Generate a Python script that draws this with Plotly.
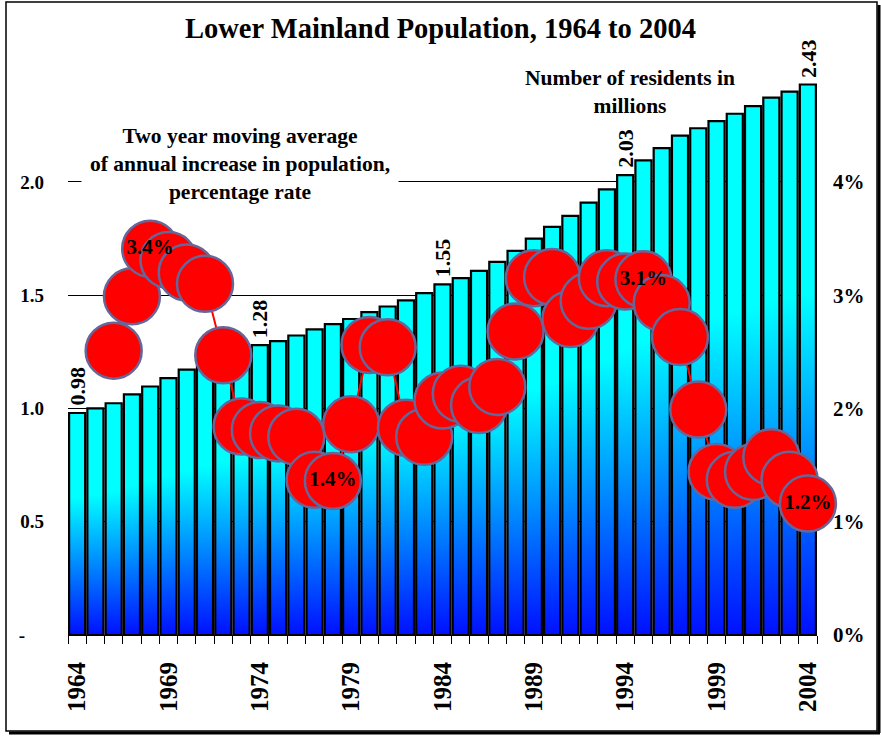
import plotly.graph_objects as go

years = list(range(1964, 2005))
population = [0.98, 1.00, 1.023, 1.062, 1.097, 1.134, 1.171, 1.205, 1.235, 1.26,
              1.28, 1.297, 1.322, 1.349, 1.372, 1.395, 1.425, 1.450, 1.477, 1.509,
              1.548, 1.575, 1.607, 1.647, 1.696, 1.750, 1.802, 1.850, 1.909, 1.967,
              2.03, 2.095, 2.149, 2.204, 2.237, 2.268, 2.301, 2.335, 2.372, 2.399,
              2.43]

rate_years = list(range(1966, 2005))
growth_rate = [2.51, 2.99, 3.41, 3.31, 3.20, 3.10, 2.47,
               1.84, 1.81, 1.78, 1.75, 1.37, 1.36, 1.86, 2.56, 2.54, 1.83, 1.75,
               2.07, 2.13, 2.03, 2.19, 2.68, 3.15, 3.16, 2.79, 2.95, 3.15,
               3.12, 3.14, 2.93, 2.63, 1.99, 1.44, 1.37, 1.44, 1.57, 1.37, 1.16]

bar_label_years = [1964, 1974, 1984, 1994, 2004]
rate_label_years = [1968, 1978, 1995, 2004]
year_ticks = list(range(1964, 2005, 5))
left_ticks = [0, 0.5, 1.0, 1.5, 2.0]
left_ticktext = ["-\u00a0\u00a0\u00a0\u00a0", "0.5", "1.0", "1.5", "2.0"]
right_ticks = [0, 1, 2, 3, 4]
right_ticktext = ["0%", "1%", "2%", "3%", "4%"]

SERIF = "Liberation Serif, Times New Roman, serif"
W, H = 881, 736
ML, MR, MT, MB = 68, 64, 46, 101
PW, PH = W - ML - MR, H - MT - MB


def px_x(p):
    return (p - ML) / PW


def px_y(q):
    return (H - MB - q) / PH


fig = go.Figure()

# bars as filled polygons so each one gets its own vertical gradient
bar_w = 0.88
grad = [[0, "#0010ff"], [0.62, "#00ffff"], [1, "#00ffff"]]
for yr, v in zip(years, population):
    x0, x1 = yr - bar_w / 2, yr + bar_w / 2
    fig.add_trace(go.Scatter(
        x=[x0, x0, x1, x1, x0], y=[0, v, v, 0, 0],
        mode="lines", fill="toself",
        fillgradient=dict(type="vertical", colorscale=grad),
        line=dict(color="black", width=2.2),
        showlegend=False, hoverinfo="skip",
    ))

rate_text = [f"{v:.1f}%" if yr in rate_label_years else "" for yr, v in zip(rate_years, growth_rate)]
fig.add_trace(go.Scatter(
    x=rate_years, y=growth_rate, yaxis="y2",
    mode="lines+markers+text",
    line=dict(color="red", width=2),
    marker=dict(size=56, color="red", line=dict(color="#666699", width=2.5)),
    text=rate_text, textposition="middle center",
    textfont=dict(family=SERIF, size=21, color="black", weight="bold"),
    cliponaxis=False, showlegend=False,
))

for yr, v in zip(years, population):
    if yr in bar_label_years:
        fig.add_annotation(
            x=yr, y=v, text=f"{v:.2f}", textangle=-90, showarrow=False,
            xanchor="center", yanchor="bottom", yshift=5,
            font=dict(family=SERIF, size=22, color="black", weight="bold"),
        )

fig.add_annotation(
    xref="paper", yref="paper", x=px_x(240), y=px_y(164),
    xanchor="center", yanchor="middle",
    text="Two year moving average<br>of annual increase in population,<br>percentage rate",
    showarrow=False, bgcolor="white", borderpad=8,
    font=dict(family=SERIF, size=21.5, color="black", weight="bold"),
)
fig.add_annotation(
    xref="paper", yref="paper", x=px_x(630), y=px_y(92),
    xanchor="center", yanchor="middle",
    text="Number of residents in<br>millions",
    showarrow=False,
    font=dict(family=SERIF, size=21.5, color="black", weight="bold"),
)

# chart frame with a small shadow
fig.add_shape(type="rect", xref="paper", yref="paper",
              x0=px_x(6), x1=px_x(877), y0=px_y(731), y1=px_y(2),
              line=dict(color="black", width=1.5), layer="above")
fig.add_shape(type="line", xref="paper", yref="paper",
              x0=px_x(9), x1=px_x(880), y0=px_y(733), y1=px_y(733),
              line=dict(color="black", width=3), layer="above")
fig.add_shape(type="line", xref="paper", yref="paper",
              x0=px_x(879), x1=px_x(879), y0=px_y(733), y1=px_y(5),
              line=dict(color="black", width=3), layer="above")

fig.update_layout(
    width=W, height=H,
    margin=dict(l=ML, r=MR, t=MT, b=MB),
    paper_bgcolor="white", plot_bgcolor="white",
    title=dict(text="Lower Mainland Population, 1964 to 2004",
               x=0.5, xanchor="center", y=1 - 28 / H, yanchor="middle",
               font=dict(family=SERIF, size=28.5, color="black", weight="bold")),
    xaxis=dict(
        range=[1963.5, 2004.5], tickmode="array", tickvals=year_ticks,
        tickangle=-90, ticks="", showgrid=False, zeroline=False,
        showline=True, linecolor="black", linewidth=1,
        ticklabelstandoff=16,
        tickfont=dict(family=SERIF, size=25, color="black", weight="bold"),
        minor=dict(tickmode="array", tickvals=[y - 0.5 for y in years] + [years[-1] + 0.5],
                   ticks="outside", ticklen=8, tickcolor="black", tickwidth=1, showgrid=False),
    ),
    yaxis=dict(
        range=[0, 2.6], tickmode="array", tickvals=left_ticks, ticktext=left_ticktext,
        showgrid=True, gridcolor="black", gridwidth=1, zeroline=False, showline=False,
        ticks="", ticklabelstandoff=23,
        tickfont=dict(family=SERIF, size=19, color="black", weight="bold"),
    ),
    yaxis2=dict(
        range=[0, 5.2], overlaying="y", side="right",
        tickmode="array", tickvals=right_ticks, ticktext=right_ticktext,
        showgrid=False, zeroline=False, showline=False, ticks="",
        ticklabelstandoff=15,
        tickfont=dict(family=SERIF, size=21, color="black", weight="bold"),
    ),
)

fig.write_html("out.html", config={"displayModeBar": False},
               post_script="document.body.style.margin = '0';")
